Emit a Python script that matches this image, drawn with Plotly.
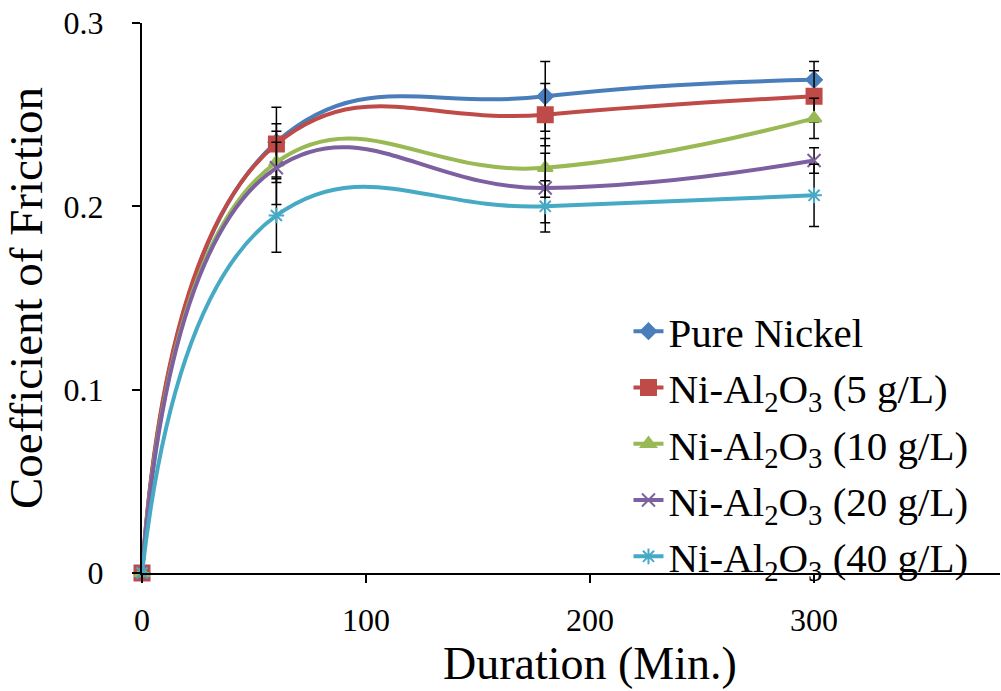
import plotly.graph_objects as go

duration = [0, 60, 180, 300]
pure_ni = [0, 0.235, 0.260, 0.269]
ni_5 = [0, 0.234, 0.250, 0.260]
ni_10 = [0, 0.224, 0.221, 0.248]
ni_20 = [0, 0.221, 0.210, 0.225]
ni_40 = [0, 0.195, 0.200, 0.206]

err_pure = [0, 0.019, 0.019, 0.010]
err_5 = [0, 0.011, 0.017, 0.014]
err_10 = [0, 0.011, 0.016, 0.011]
err_20 = [0, 0.020, 0.019, 0.007]
err_40 = [0, 0.020, 0.014, 0.017]

names = ["Pure Nickel",
         "Ni-Al<sub>2</sub>O<sub>3</sub> (5 g/L)",
         "Ni-Al<sub>2</sub>O<sub>3</sub> (10 g/L)",
         "Ni-Al<sub>2</sub>O<sub>3</sub> (20 g/L)",
         "Ni-Al<sub>2</sub>O<sub>3</sub> (40 g/L)"]
series = [pure_ni, ni_5, ni_10, ni_20, ni_40]
errors = [err_pure, err_5, err_10, err_20, err_40]
colors = ["#4A7EBB", "#BE4B48", "#98B954", "#7D60A0", "#46AAC5"]
symbols = ["diamond", "square", "triangle-up", "x-thin", "asterisk"]
sizes = [12, 15, 13, 13, 13]

FF = "Liberation Serif"

fig = go.Figure()
for name, ys, es, c, s, sz in zip(names, series, errors, colors, symbols, sizes):
    fig.add_trace(go.Scatter(
        x=duration, y=ys, name=name, mode="lines+markers",
        line=dict(color=c, width=4, shape="spline", smoothing=1.3),
        marker=dict(symbol=s, size=sz, color=c, line=dict(color=c, width=2)),
        error_y=dict(type="data", array=es, visible=True, color="black",
                     thickness=1.5, width=5),
        cliponaxis=False,
    ))

fig.update_layout(
    width=1001, height=691,
    margin=dict(l=142, r=1, t=23, b=118),
    plot_bgcolor="white", paper_bgcolor="white",
    font=dict(family=FF, color="black", size=32),
    showlegend=True,
    legend=dict(x=0.567, y=0.5, xanchor="left", yanchor="top",
                bgcolor="rgba(0,0,0,0)", font=dict(size=41, family=FF, color="black"),
                itemwidth=30, tracegroupgap=0),
    xaxis=dict(range=[0, 383], tickvals=[0, 100, 200, 300],
               ticktext=["0", "100", "200", "300"],
               showline=True, linecolor="black", linewidth=2,
               ticks="outside", ticklen=8, tickwidth=2, tickcolor="black",
               showgrid=False, zeroline=False, ticklabelstandoff=10,
               tickfont=dict(size=32, family=FF, color="black")),
    yaxis=dict(range=[0, 0.3], tickvals=[0, 0.1, 0.2, 0.3],
               ticktext=["0", "0.1", "0.2", "0.3"],
               showline=True, linecolor="black", linewidth=2,
               ticks="outside", ticklen=8, tickwidth=2, tickcolor="black",
               showgrid=False, zeroline=False, ticklabelstandoff=22,
               tickfont=dict(size=32, family=FF, color="black"),
               title=dict(text="Coefficient of Friction", font=dict(size=47, family=FF, color="black"),
                          standoff=10)),
    annotations=[dict(text="Duration (Min.)", xref="paper", yref="paper",
                      x=0.522, y=-0.165, xanchor="center", yanchor="middle",
                      showarrow=False, font=dict(size=46, family=FF, color="black"))],
)

fig.write_html("out.html")
